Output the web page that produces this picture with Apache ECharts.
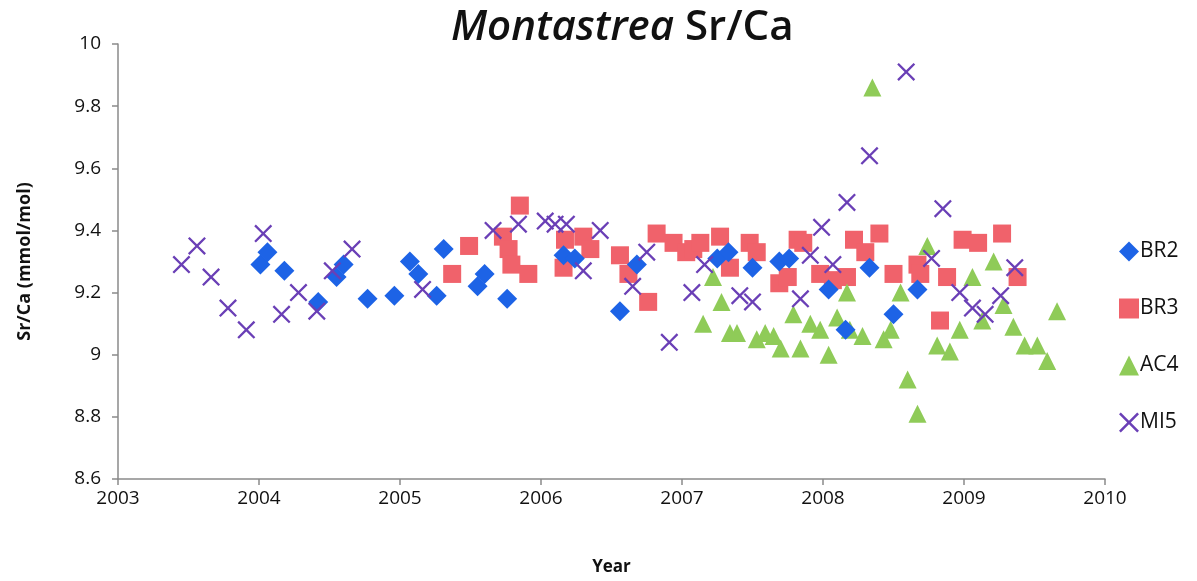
<!DOCTYPE html>
<html>
<head>
<meta charset="utf-8">
<title>Montastrea Sr/Ca</title>
<script src="https://cdn.jsdelivr.net/npm/echarts@6/dist/echarts.min.js"></script>
<style>
  html, body { margin: 0; padding: 0; background: #ffffff; }
  #chart { width: 1197px; height: 581px; }
</style>
</head>
<body>
<div id="chart"></div>
<script>
// Sr/Ca ratios (mmol/mol) by decimal year for four Montastrea cores
const seriesNames = ['BR2', 'BR3', 'AC4', 'MI5'];
const yearTicks = [2003, 2004, 2005, 2006, 2007, 2008, 2009, 2010];
const srcaTicks = [8.6, 8.8, 9, 9.2, 9.4, 9.6, 9.8, 10];

const br2 = [
  [2004.01, 9.29], [2004.06, 9.33], [2004.18, 9.27], [2004.42, 9.17], [2004.55, 9.25],
  [2004.60, 9.29], [2004.77, 9.18], [2004.96, 9.19], [2005.07, 9.30], [2005.13, 9.26],
  [2005.26, 9.19], [2005.31, 9.34], [2005.55, 9.22], [2005.60, 9.26], [2005.76, 9.18],
  [2006.16, 9.32], [2006.24, 9.31], [2006.56, 9.14], [2006.68, 9.29], [2007.25, 9.31],
  [2007.33, 9.33], [2007.50, 9.28], [2007.69, 9.30], [2007.76, 9.31], [2008.04, 9.21],
  [2008.16, 9.08], [2008.33, 9.28], [2008.50, 9.13], [2008.67, 9.21]
];

const br3 = [
  [2005.37, 9.26], [2005.49, 9.35], [2005.73, 9.38], [2005.77, 9.34], [2005.79, 9.29],
  [2005.85, 9.48], [2005.91, 9.26], [2006.16, 9.28], [2006.17, 9.37], [2006.30, 9.38],
  [2006.35, 9.34], [2006.56, 9.32], [2006.62, 9.26], [2006.76, 9.17], [2006.82, 9.39],
  [2006.94, 9.36], [2007.03, 9.33], [2007.08, 9.34], [2007.13, 9.36], [2007.27, 9.38],
  [2007.34, 9.28], [2007.48, 9.36], [2007.53, 9.33], [2007.69, 9.23], [2007.75, 9.25],
  [2007.82, 9.37], [2007.86, 9.36], [2007.98, 9.26], [2008.07, 9.24], [2008.17, 9.25],
  [2008.22, 9.37], [2008.30, 9.33], [2008.40, 9.39], [2008.50, 9.26], [2008.67, 9.29],
  [2008.69, 9.26], [2008.83, 9.11], [2008.88, 9.25], [2008.99, 9.37], [2009.10, 9.36],
  [2009.27, 9.39], [2009.38, 9.25]
];

const ac4 = [
  [2007.15, 9.10], [2007.22, 9.25], [2007.28, 9.17], [2007.34, 9.07], [2007.39, 9.07],
  [2007.53, 9.05], [2007.59, 9.07], [2007.65, 9.06], [2007.70, 9.02], [2007.79, 9.13],
  [2007.84, 9.02], [2007.91, 9.10], [2007.98, 9.08], [2008.04, 9.00], [2008.10, 9.12],
  [2008.17, 9.20], [2008.19, 9.08], [2008.28, 9.06], [2008.35, 9.86], [2008.43, 9.05],
  [2008.48, 9.08], [2008.55, 9.20], [2008.60, 8.92], [2008.67, 8.81], [2008.74, 9.35],
  [2008.81, 9.03], [2008.90, 9.01], [2008.97, 9.08], [2009.06, 9.25], [2009.13, 9.11],
  [2009.21, 9.30], [2009.28, 9.16], [2009.35, 9.09], [2009.43, 9.03], [2009.52, 9.03],
  [2009.59, 8.98], [2009.66, 9.14]
];

const mi5 = [
  [2003.45, 9.29], [2003.56, 9.35], [2003.66, 9.25], [2003.78, 9.15], [2003.91, 9.08],
  [2004.03, 9.39], [2004.16, 9.13], [2004.28, 9.20], [2004.41, 9.14], [2004.52, 9.27],
  [2004.66, 9.34], [2005.16, 9.21], [2005.66, 9.40], [2005.84, 9.42], [2006.03, 9.43],
  [2006.10, 9.42], [2006.18, 9.42], [2006.30, 9.27], [2006.42, 9.40], [2006.65, 9.22],
  [2006.75, 9.33], [2006.91, 9.04], [2007.07, 9.20], [2007.16, 9.29], [2007.41, 9.19],
  [2007.50, 9.17], [2007.84, 9.18], [2007.91, 9.32], [2007.99, 9.41], [2008.07, 9.29],
  [2008.17, 9.49], [2008.33, 9.64], [2008.59, 9.91], [2008.77, 9.31], [2008.85, 9.47],
  [2008.97, 9.20], [2009.06, 9.15], [2009.15, 9.13], [2009.26, 9.19], [2009.36, 9.28]
];

// Marker styles
const FONT = '"Open Sans", "Noto Sans", sans-serif';
const CROSS = 'path://M0,9L9,0L50,41L91,0L100,9L59,50L100,91L91,100L50,59L9,100L0,91L41,50Z';
const colors = { BR2: '#1d63e6', BR3: '#f0626b', AC4: '#8fcb58', MI5: '#6a3fb6' };

const chart = echarts.init(document.getElementById('chart'), null, { renderer: 'canvas' });

const axisLineStyle = { color: '#8a8a8a', width: 1.5 };

chart.setOption({
  backgroundColor: '#ffffff',
  animation: false,
  title: {
    text: '{i|Montastrea}{n| Sr/Ca}',
    left: 446,
    top: 2,
    textStyle: {
      rich: {
        i: { fontFamily: FONT, fontSize: 42, fontStyle: 'italic', color: '#111', fontWeight: 600 },
        n: { fontFamily: FONT, fontSize: 42, color: '#111', fontWeight: 600 }
      }
    }
  },
  grid: { left: 118, right: 92, top: 44, bottom: 100, containLabel: false },
  legend: {
    orient: 'vertical',
    left: 1114,
    top: 236,
    itemGap: 36,
    itemWidth: 20,
    itemHeight: 20,
    data: seriesNames,
    textStyle: { fontFamily: FONT, fontSize: 21, color: '#111', padding: [0, 0, 0, -4] }
  },
  xAxis: {
    type: 'value',
    min: yearTicks[0],
    max: yearTicks[yearTicks.length - 1],
    interval: 1,
    name: 'Year',
    nameLocation: 'middle',
    nameGap: 80,
    nameTextStyle: { fontFamily: FONT, fontSize: 17, fontWeight: 'bold', color: '#111' },
    axisLine: { show: true, onZero: false, lineStyle: axisLineStyle },
    axisTick: { show: true, inside: false, length: 6, lineStyle: axisLineStyle },
    splitLine: { show: false },
    axisLabel: {
      fontFamily: FONT, fontSize: 19, color: '#111', margin: 10,
      formatter: v => String(v)
    }
  },
  yAxis: {
    type: 'value',
    min: srcaTicks[0],
    max: srcaTicks[srcaTicks.length - 1],
    interval: 0.2,
    name: 'Sr/Ca (mmol/mol)',
    nameLocation: 'middle',
    nameGap: 84,
    nameRotate: 90,
    nameTextStyle: { fontFamily: FONT, fontSize: 18, fontWeight: 'bold', color: '#111' },
    axisLine: { show: true, onZero: false, lineStyle: axisLineStyle },
    axisTick: { show: true, inside: false, length: 6, lineStyle: axisLineStyle },
    splitLine: { show: false },
    axisLabel: {
      fontFamily: FONT, fontSize: 19, color: '#111', margin: 17,
      formatter: v => String(+v.toFixed(1))
    }
  },
  series: [
    {
      name: 'BR2', type: 'scatter', data: br2, symbol: 'diamond', symbolSize: 20, z: 4,
      itemStyle: { color: colors.BR2, opacity: 1 }
    },
    {
      name: 'BR3', type: 'scatter', data: br3, symbol: 'rect', symbolSize: 18, z: 2,
      itemStyle: { color: colors.BR3, opacity: 1 }
    },
    {
      name: 'AC4', type: 'scatter', data: ac4, symbol: 'triangle', symbolSize: 18, z: 3,
      itemStyle: { color: colors.AC4, opacity: 1 }
    },
    {
      name: 'MI5', type: 'scatter', data: mi5, symbol: CROSS, symbolSize: 18, z: 5,
      itemStyle: { color: colors.MI5, opacity: 1 }
    }
  ]
});
</script>
</body>
</html>
